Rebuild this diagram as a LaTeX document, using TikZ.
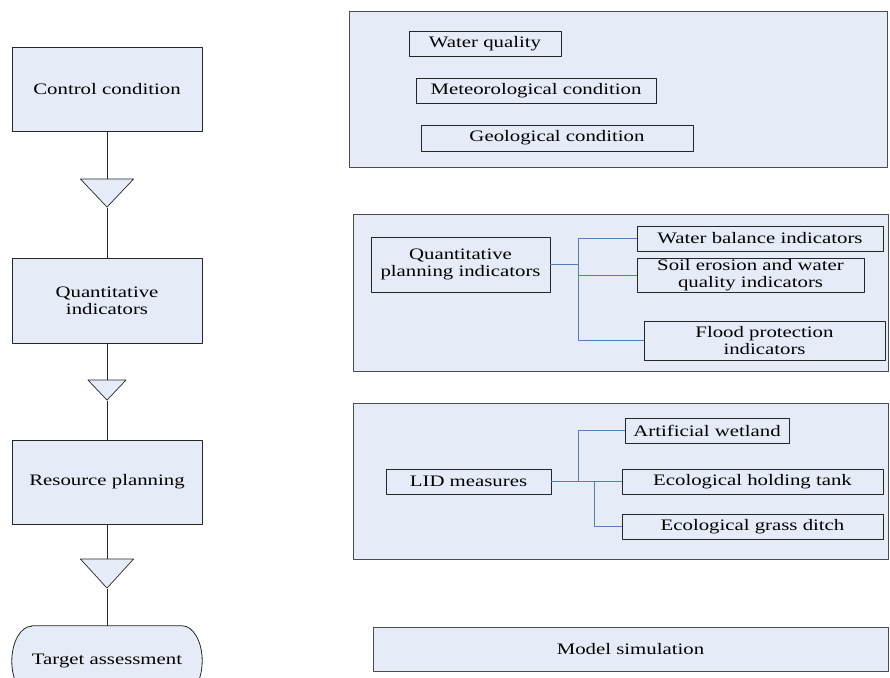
\documentclass[tikz,border=0pt]{standalone}
\usepackage{fontspec}
\setmainfont{Liberation Serif}[FakeStretch=1.3]
\usetikzlibrary{shapes.geometric,backgrounds}
\definecolor{paleblue}{RGB}{230,236,247}
\definecolor{linkblue}{RGB}{79,129,189}
\begin{document}
\begin{tikzpicture}[x=1pt,y=-1pt, font=\fontsize{16}{17}\selectfont, line join=round,
    step box/.style={draw=black!85, fill=paleblue, line width=.8pt, minimum width=190pt, align=center},
    merge/.style={isosceles triangle, isosceles triangle stretches, shape border rotate=270,
        draw=black!85, fill=paleblue, line width=.7pt, inner sep=0pt},
    panel/.style={draw=black!70, fill=paleblue, line width=.9pt},
    item/.style={draw=black!85, fill=paleblue, line width=.8pt, inner sep=1pt, align=center},
    link/.style={draw=linkblue, line width=.9pt}]
    \def\cx{107} % left column
    \useasboundingbox (0,0) rectangle (890,677);
    % left column
    \node[step box, minimum height=84pt] (cc) at (\cx,89) {Control condition};
    \node[merge, minimum width=53pt, minimum height=28pt, anchor=apex] (t1) at (\cx,208) {};
    \node[step box, minimum height=85pt] (qi) at (\cx,300.5) {Quantitative\\indicators};
    \node[merge, minimum width=38pt, minimum height=20pt, anchor=apex] (t2) at (\cx,401) {};
    \node[step box, minimum height=84pt] (rp) at (\cx,482) {Resource planning};
    \node[merge, minimum width=53pt, minimum height=29pt, anchor=apex] (t3) at (\cx,589) {};
    \node[minimum width=190pt, minimum height=70pt, inner sep=0pt] (ta) at (\cx,661) {Target assessment};
    \begin{pgfonlayer}{background}
        \draw[draw=black!85, fill=paleblue, line width=.8pt]
            ([xshift=20pt]ta.north west) -- ([xshift=-20pt]ta.north east)
            arc[start angle=90, end angle=-90, x radius=20pt, y radius=35pt]
            -- ([xshift=20pt]ta.south west)
            arc[start angle=270, end angle=90, x radius=20pt, y radius=35pt] -- cycle;
    \end{pgfonlayer}
    \draw[line width=.8pt, black!85] (cc) -- (t1) -- (qi) -- (t2) -- (rp) -- (t3) -- (ta);
    % conditions
    \node[panel, minimum width=538pt, minimum height=156pt] (env) at (618,89) {};
    \node[item, minimum width=152pt, minimum height=25pt] (wq) at (485,43.5) {Water quality};
    \node[item, minimum width=240pt, minimum height=25pt] (mc) at (536,90.5) {Meteorological condition};
    \node[item, minimum width=272pt, minimum height=26pt] (gc) at (557,138) {Geological condition};
    % indicators
    \node[panel, minimum width=535pt, minimum height=157pt] (ind) at (620.5,292.5) {};
    \node[item, minimum width=179pt, minimum height=55pt] (qpi) at (460.5,264.5) {Quantitative\\planning indicators};
    \node[item, minimum width=246pt, minimum height=25pt] (wb) at (760,238.5) {Water balance indicators};
    \node[item, minimum width=227pt, minimum height=33pt] (se) at (750.5,275.5) {Soil erosion and water\\quality indicators};
    \node[item, minimum width=241pt, minimum height=39pt] (fp) at (764.5,340.5) {Flood protection\\indicators};
    \draw[link] (qpi.east) -- ++(28,0) |- (wb.west);
    \draw[link] (qpi.east) -- ++(28,0) |- (se.west);
    \draw[link] (qpi.east) -- ++(28,0) |- (fp.west);
    % measures
    \node[panel, minimum width=535pt, minimum height=156pt] (lidp) at (620.5,481) {};
    \node[item, minimum width=165pt, minimum height=25pt] (lid) at (468.5,481.5) {LID measures};
    \node[item, minimum width=164pt, minimum height=25pt] (aw) at (707,430.5) {Artificial wetland};
    \node[item, minimum width=261pt, minimum height=25pt] (ht) at (752.5,481.5) {Ecological holding tank};
    \node[item, minimum width=261pt, minimum height=25pt] (gd) at (752.5,526.5) {Ecological grass ditch};
    \draw[link] (lid.east) -- (ht.west);
    \draw[link] (lid.east) -- ++(27,0) |- (aw.west);
    \draw[link] (lid.east) -- ++(43,0) |- (gd.west);
    % simulation
    \node[panel, minimum width=515pt, minimum height=44pt] (ms) at (630.5,649) {Model simulation};
\end{tikzpicture}
\end{document}
